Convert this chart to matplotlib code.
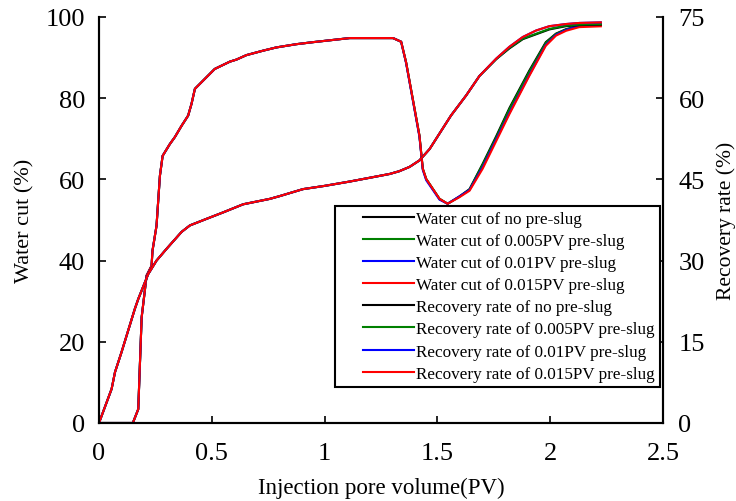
import matplotlib
matplotlib.use("Agg")
import matplotlib.pyplot as plt
from matplotlib.legend_handler import HandlerLine2D

# ---------------- data ----------------
wc_x = [0, 0.15, 0.174, 0.189, 0.211, 0.233, 0.237, 0.255, 0.263, 0.270, 0.282, 0.314,
        0.336, 0.366, 0.395, 0.41, 0.425, 0.513, 0.58, 0.609, 0.653, 0.727, 0.786,
        0.875, 0.949, 1.03, 1.111, 1.303, 1.339, 1.361, 1.42, 1.435, 1.45, 1.509,
        1.545, 1.597, 1.642, 1.7, 1.76, 1.819, 1.907, 1.98, 2.025, 2.07, 2.128, 2.224]
wc_none = [0, 0, 3.4, 26, 36.3, 38.7, 42.4, 48.6, 55.2, 60.9, 65.8, 68.7,
           70.4, 73.2, 75.7, 78.6, 82.3, 87.2, 89.0, 89.5, 90.6, 91.7, 92.5,
           93.3, 93.8, 94.3, 94.8, 94.8, 93.9, 88.8, 70.8, 62.6, 60.1, 55.2,
           54.0, 55.8, 57.6, 63.8, 70.6, 77.6, 86.8, 93.8, 95.9, 97.0, 97.8, 98.0]
wc_0005 = [0, 0, 3.4, 26, 36.3, 38.7, 42.4, 48.6, 55.2, 60.9, 65.8, 68.7,
           70.4, 73.2, 75.7, 78.6, 82.3, 87.2, 89.0, 89.5, 90.6, 91.7, 92.5,
           93.3, 93.8, 94.3, 94.8, 94.8, 93.9, 88.8, 70.8, 62.6, 60.1, 55.2,
           54.0, 55.7, 57.5, 63.6, 70.3, 77.3, 86.5, 93.6, 95.8, 96.9, 97.8, 98.1]
wc_001 = [0, 0, 3.4, 26, 36.3, 38.7, 42.4, 48.6, 55.2, 60.9, 65.8, 68.7,
          70.4, 73.2, 75.7, 78.6, 82.3, 87.2, 89.0, 89.5, 90.6, 91.7, 92.5,
          93.3, 93.8, 94.3, 94.8, 94.8, 93.9, 88.6, 70.5, 62.3, 59.8, 55.0,
          54.0, 55.8, 57.4, 63.0, 69.8, 76.4, 85.7, 93.1, 95.6, 96.8, 97.8, 98.3]
wc_0015 = [0, 0, 3.4, 26, 36.3, 38.7, 42.4, 48.6, 55.2, 60.9, 65.8, 68.7,
           70.4, 73.2, 75.7, 78.6, 82.3, 87.2, 89.0, 89.5, 90.6, 91.7, 92.5,
           93.3, 93.8, 94.3, 94.8, 94.8, 93.9, 88.8, 70.8, 62.6, 60.1, 55.2,
           54.0, 55.6, 57.2, 62.6, 69.4, 76.1, 85.5, 92.9, 95.4, 96.6, 97.5, 97.7]

rr_x = [0, 0.056, 0.071, 0.1, 0.159, 0.174, 0.218, 0.255, 0.3, 0.366, 0.403, 0.476,
        0.55, 0.639, 0.757, 0.8, 0.904, 1.0, 1.111, 1.2, 1.288, 1.33, 1.376, 1.42,
        1.465, 1.56, 1.627, 1.686, 1.76, 1.819, 1.878, 1.937, 1.996, 2.07, 2.13, 2.224]
rr_none = [0, 6.3, 9.4, 13.1, 21.1, 22.9, 27.5, 30.0, 32.2, 35.3, 36.5, 37.7,
           38.9, 40.4, 41.4, 41.9, 43.2, 43.8, 44.6, 45.3, 46.0, 46.5, 47.3, 48.5,
           50.6, 56.8, 60.5, 64.1, 67.2, 69.2, 70.9, 71.8, 72.7, 73.3, 73.5, 73.6]
rr_0005 = [0, 6.3, 9.4, 13.1, 21.1, 22.9, 27.5, 30.0, 32.2, 35.3, 36.5, 37.7,
           38.9, 40.4, 41.4, 41.9, 43.2, 43.8, 44.6, 45.3, 46.0, 46.5, 47.3, 48.5,
           50.6, 56.8, 60.5, 64.1, 67.2, 69.3, 71.0, 71.9, 72.8, 73.4, 73.6, 73.7]
rr_001 = [0, 6.3, 9.4, 13.1, 21.1, 22.9, 27.5, 30.0, 32.2, 35.3, 36.5, 37.7,
          38.9, 40.4, 41.4, 41.9, 43.2, 43.8, 44.6, 45.3, 46.0, 46.5, 47.3, 48.5,
          50.6, 56.8, 60.5, 64.1, 67.3, 69.5, 71.3, 72.5, 73.3, 73.7, 73.9, 74.0]
rr_0015 = [0, 6.3, 9.4, 13.1, 21.1, 22.9, 27.5, 30.0, 32.2, 35.3, 36.5, 37.7,
           38.9, 40.4, 41.4, 41.9, 43.2, 43.8, 44.6, 45.3, 46.0, 46.5, 47.3, 48.5,
           50.6, 56.8, 60.5, 64.1, 67.3, 69.5, 71.3, 72.5, 73.3, 73.7, 73.9, 74.0]

wc_labels = ["Water cut of no pre-slug", "Water cut of 0.005PV pre-slug",
             "Water cut of 0.01PV pre-slug", "Water cut of 0.015PV pre-slug"]
rr_labels = ["Recovery rate of no pre-slug", "Recovery rate of 0.005PV pre-slug",
             "Recovery rate of 0.01PV pre-slug", "Recovery rate of 0.015PV pre-slug"]
colors = ["#000000", "#008000", "#0000FF", "#FF0000"]

x_ticks = [0, 0.5, 1, 1.5, 2, 2.5]
x_tick_labels = ["0", "0.5", "1", "1.5", "2", "2.5"]
wc_ticks = [0, 20, 40, 60, 80, 100]
rr_ticks = [0, 15, 30, 45, 60, 75]

# ---------------- plot ----------------
plt.rcParams['font.family'] = ['Liberation Serif', 'DejaVu Serif']

fig = plt.figure(figsize=(7.36, 5.02), dpi=100)
ax = fig.add_axes([0.1345, 0.1554, 0.7665, 0.8088])
ax2 = ax.twinx()

lw = 1.5
wc_series = [wc_none, wc_0005, wc_001, wc_0015]
rr_series = [rr_none, rr_0005, rr_001, rr_0015]
handles = []
for ys, c, lab in zip(wc_series, colors, wc_labels):
    h, = ax.plot(wc_x, ys, color=c, lw=lw, label=lab)
    handles.append(h)
for ys, c, lab in zip(rr_series, colors, rr_labels):
    h, = ax2.plot(rr_x, ys, color=c, lw=lw, label=lab)
    handles.append(h)

ax.set_xlim(0, 2.5)
ax.set_ylim(0, 100)
ax2.set_ylim(0, 75)
ax.set_xticks(x_ticks)
ax.set_xticklabels(x_tick_labels)
ax.set_yticks(wc_ticks)
ax2.set_yticks(rr_ticks)

for a in (ax, ax2):
    a.spines['top'].set_visible(False)
    for s in ('left', 'right', 'bottom'):
        a.spines[s].set_linewidth(1.5)
ax.tick_params(axis='x', direction='in', length=5, width=1.2, labelsize=19, pad=14)
ax.tick_params(axis='y', direction='in', length=5, width=1.2, labelsize=19, pad=10)
ax2.tick_params(axis='y', direction='in', length=5, width=1.2, labelsize=19, pad=11)

ax.set_xlabel("Injection pore volume(PV)", fontsize=16.5, labelpad=9)
ax.set_ylabel("Water cut (%)", fontsize=16, labelpad=8)
ax2.set_ylabel("Recovery rate (%)", fontsize=15.5, labelpad=8)

leg = ax2.legend(handles=handles, loc='lower right', bbox_to_anchor=(0.995, 0.089),
                 fontsize=12.3, frameon=True, fancybox=False, edgecolor='black',
                 borderpad=0.3, labelspacing=0.36, handlelength=4.3, handletextpad=0.15,
                 borderaxespad=0,
                 handler_map={plt.Line2D: HandlerLine2D(xpad=1.3)})
leg.get_frame().set_linewidth(1.5)
leg.get_frame().set_alpha(1)

fig.savefig("out.png", dpi=100)
